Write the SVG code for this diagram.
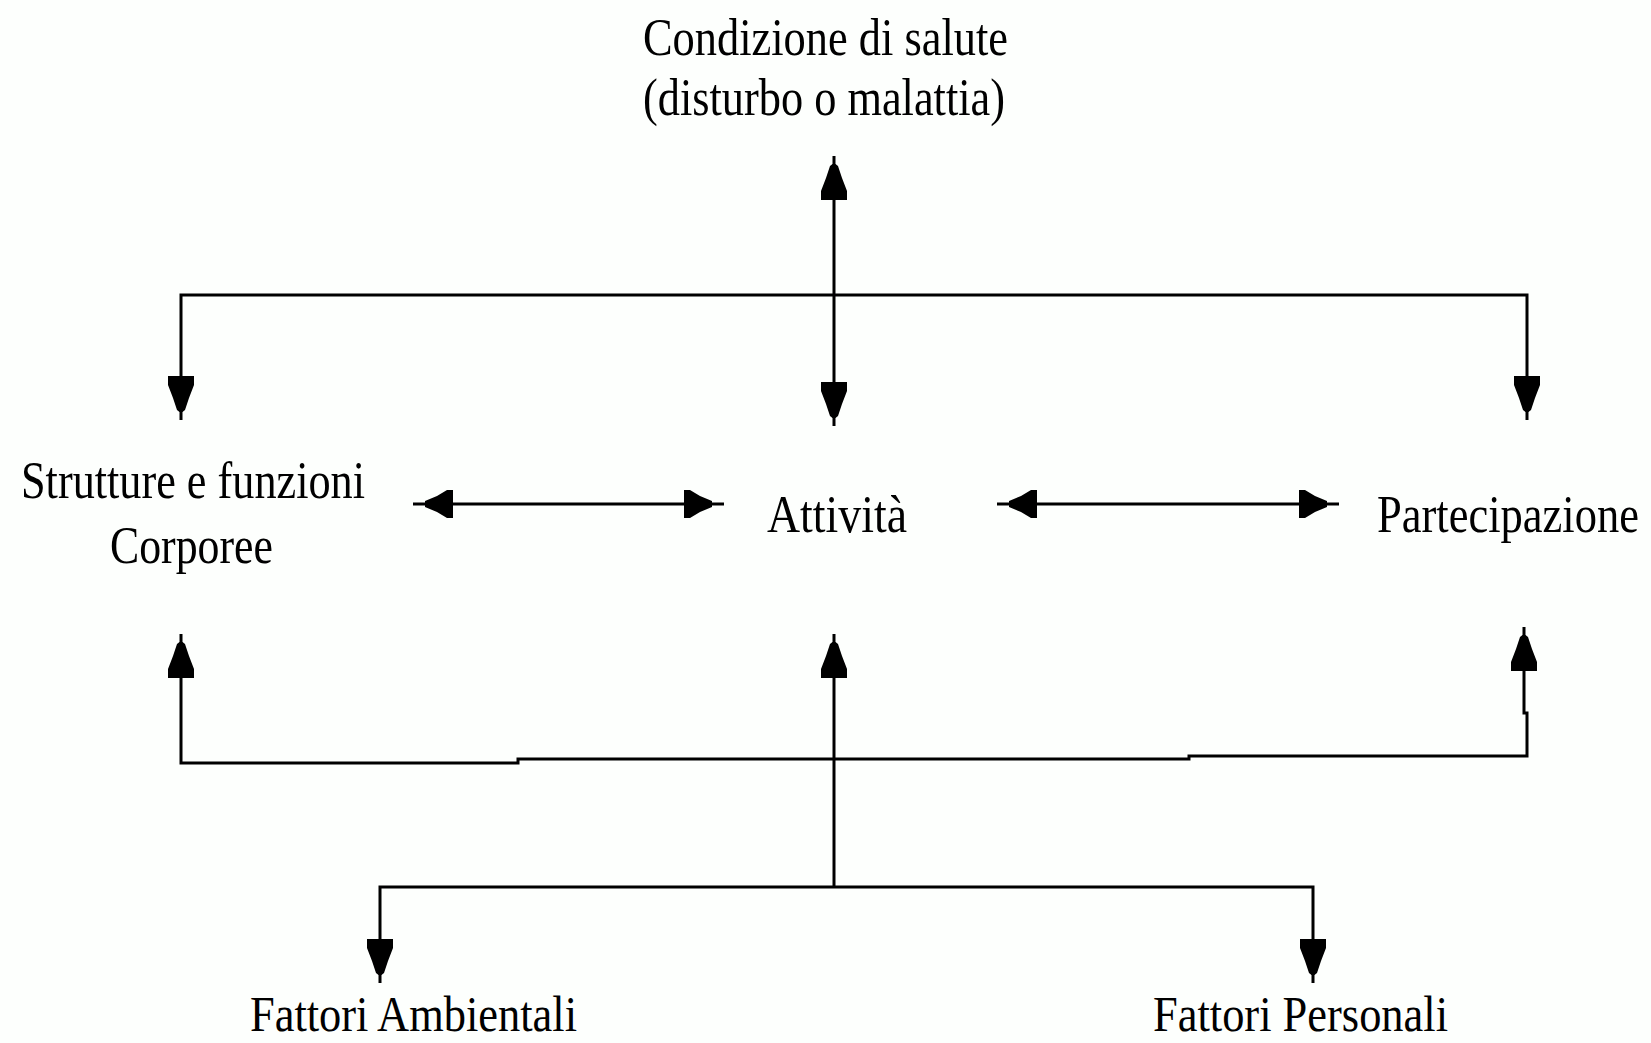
<svg xmlns="http://www.w3.org/2000/svg" width="1651" height="1043" viewBox="0 0 1651 1043">
<style>
.t{font-family:"Liberation Serif","Times New Roman",serif;font-size:53px;fill:#000}
.b{font-size:50px}
.c{fill:none;stroke:#000;stroke-width:3}
</style>
<defs>
<marker id="av" markerUnits="userSpaceOnUse" orient="auto-start-reverse" refX="44" refY="0" markerWidth="50" markerHeight="30" overflow="visible">
<path d="M0,-13 L9,-13 L22,-8 L34,-4 L36,-1.5 L36,1.5 L34,4 L22,8 L9,13 L0,13 Z" fill="#000"/>
</marker>
<marker id="ah" markerUnits="userSpaceOnUse" orient="auto-start-reverse" refX="40" refY="0" markerWidth="50" markerHeight="30" overflow="visible">
<path d="M0,-14 L6,-14 L16,-8 L28,-3 L28,3 L16,8 L6,14 L0,14 Z" fill="#000"/>
</marker>
</defs>
<rect width="1651" height="1043" fill="#fdfffd"/>
<g id="connectors">
<path class="c" d="M834,156 V426" marker-start="url(#av)" marker-end="url(#av)"/>
<path class="c" d="M181,420 V295 H1527 V420" marker-start="url(#av)" marker-end="url(#av)"/>
<path class="c" d="M413,504 H724" marker-start="url(#ah)" marker-end="url(#ah)"/>
<path class="c" d="M997,504 H1339" marker-start="url(#ah)" marker-end="url(#ah)"/>
<path class="c" d="M181,634 V763 H518 V759 H1189 V756 H1527 V713 H1524 V627" marker-start="url(#av)" marker-end="url(#av)"/>
<path class="c" d="M834,887 V634" marker-end="url(#av)"/>
<path class="c" d="M380,983 V887 H1313 V983" marker-start="url(#av)" marker-end="url(#av)"/>
</g>
<g id="node-condizione">
<text class="t" x="643" y="55" textLength="365" lengthAdjust="spacingAndGlyphs">Condizione di salute</text>
<text class="t" x="643" y="115" textLength="362" lengthAdjust="spacingAndGlyphs">(disturbo o malattia)</text>
</g>
<g id="node-strutture">
<text class="t" x="21" y="498" textLength="344" lengthAdjust="spacingAndGlyphs">Strutture e funzioni</text>
<text class="t" x="110" y="563" textLength="163" lengthAdjust="spacingAndGlyphs">Corporee</text>
</g>
<g id="node-attivita">
<text class="t" x="767" y="532" textLength="140" lengthAdjust="spacingAndGlyphs">Attività</text>
</g>
<g id="node-partecipazione">
<text class="t" transform="translate(1377,532) scale(0.84,1)" x="0" y="0">Partecipazione</text>
</g>
<g id="node-ambientali">
<text class="t b" x="250" y="1031" textLength="327" lengthAdjust="spacingAndGlyphs">Fattori Ambientali</text>
</g>
<g id="node-personali">
<text class="t b" x="1153" y="1031" textLength="295" lengthAdjust="spacingAndGlyphs">Fattori Personali</text>
</g>
</svg>
